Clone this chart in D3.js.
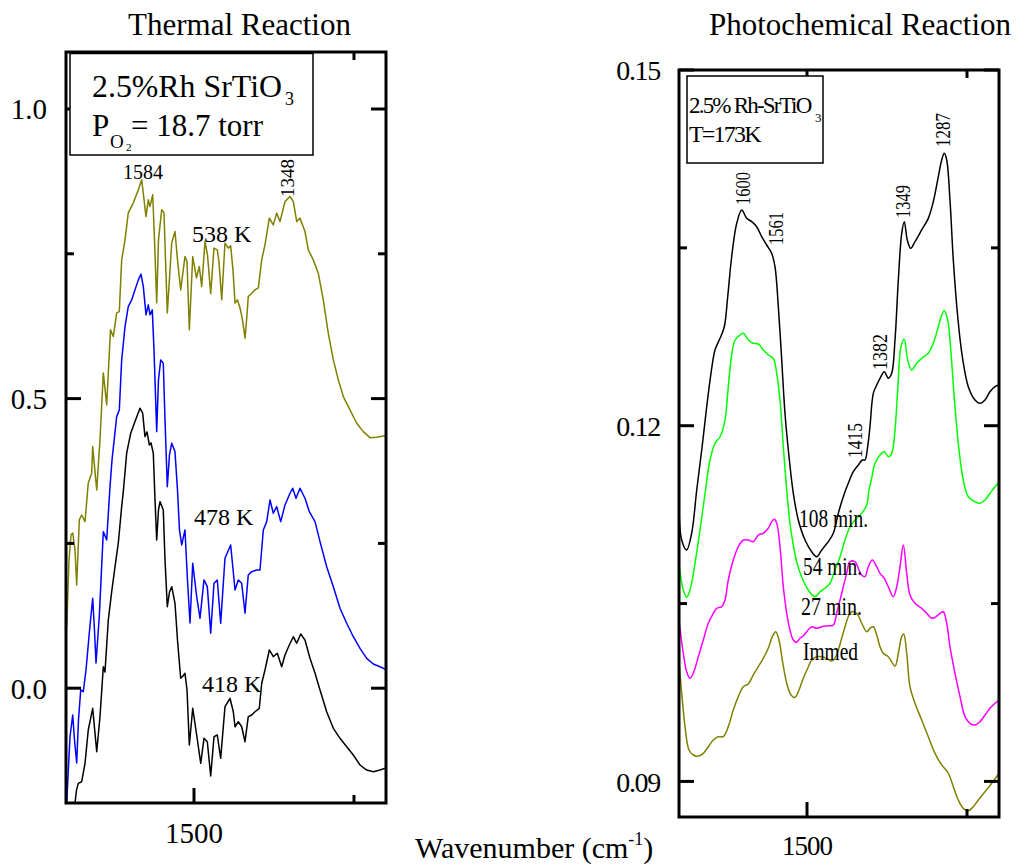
<!DOCTYPE html>
<html><head><meta charset="utf-8">
<script src="https://cdn.jsdelivr.net/npm/d3@7"></script>
<style>body{margin:0;background:#fff} svg text{font-family:"Liberation Serif","Times New Roman",Times,serif;fill:#000}</style>
</head><body><svg id="c" width="1020" height="867" font-family="Liberation Serif, Times New Roman, serif"></svg>
<script>
// ---------- DATA (wavenumber cm-1, absorbance) ----------
const thermal538 = [[1698.9,0.1057],[1695.3,0.2214],[1692.2,0.2646],[1689.5,0.268],[1685.9,0.2387],[1683.3,0.1782],[1679.2,0.2905],[1675.5,0.2991],[1670.3,0.2876],[1665.2,0.3544],[1659.8,0.3717],[1658.3,0.4171],[1652.0,0.3423],[1646.9,0.4287],[1641.7,0.5444],[1636.4,0.4891],[1630.5,0.6187],[1626.1,0.6071],[1620.8,0.648],[1616.7,0.6503],[1613.0,0.7395],[1607.8,0.7741],[1602.7,0.8207],[1594.8,0.838],[1587.0,0.8604],[1581.7,0.8777],[1575.0,0.8143],[1571.4,0.8432],[1568.8,0.8316],[1564.5,0.8518],[1561.7,0.774],[1558.3,0.6653],[1555.5,0.774],[1550.5,0.826],[1546.9,0.8207],[1544.5,0.7395],[1541.7,0.648],[1534.8,0.7689],[1529.7,0.7884],[1525.8,0.7395],[1520.8,0.6877],[1514.1,0.7453],[1510.9,0.7361],[1507.3,0.6187],[1502.0,0.7453],[1498.4,0.7223],[1496.1,0.7085],[1491.7,0.728],[1488.0,0.6934],[1482.8,0.7712],[1478.9,0.7482],[1473.9,0.6813],[1468.8,0.7598],[1463.6,0.7568],[1461.0,0.7361],[1456.7,0.6705],[1451.6,0.7684],[1446.4,0.7598],[1442.7,0.7637],[1439.1,0.7223],[1435.9,0.6648],[1432.3,0.6705],[1428.1,0.6566],[1424.2,0.6359],[1420.3,0.6043],[1417.2,0.6446],[1415.2,0.6762],[1409.8,0.682],[1404.7,0.6877],[1399.5,0.6912],[1394.2,0.7395],[1389.1,0.7655],[1382.3,0.8116],[1376.1,0.8],[1370.8,0.8202],[1365.6,0.8057],[1357.8,0.8402],[1350.0,0.8489],[1344.8,0.8402],[1339.5,0.8057],[1334.4,0.8116],[1326.6,0.7884],[1321.4,0.7568],[1313.6,0.7395],[1305.8,0.7166],[1298.0,0.6705],[1290.2,0.613],[1282.3,0.5668],[1274.5,0.5323],[1266.7,0.5035],[1256.3,0.4805],[1245.8,0.4575],[1235.5,0.443],[1225.0,0.4326],[1214.5,0.4333],[1204.2,0.4356],[1200,0.4364]];
const thermal478 = [[1698.9,-0.198],[1693.75,-0.0838],[1689.5,-0.0463],[1686.7,-0.0895],[1683.3,-0.1292],[1680.5,-0.0549],[1677.0,-0.0031],[1673.0,-0.006],[1668.75,0.0314],[1663.6,0.0953],[1658.3,0.1553],[1655.5,0.1005],[1653.1,0.0435],[1648.0,0.1235],[1641.7,0.2703],[1636.4,0.256],[1631.25,0.348],[1628.1,0.3941],[1620.8,0.4689],[1616.7,0.4805],[1613.0,0.5668],[1607.8,0.6244],[1602.7,0.6589],[1597.3,0.6705],[1592.2,0.6877],[1587.0,0.705],[1582.8,0.7149],[1579.2,0.6934],[1575.0,0.6446],[1571.4,0.6618],[1568.75,0.6446],[1565.2,0.6532],[1562.5,0.5841],[1558.3,0.443],[1555.5,0.5323],[1552.0,0.5668],[1548.0,0.5611],[1545.3,0.4632],[1541.7,0.348],[1538.3,0.4028],[1534.8,0.423],[1529.7,0.4085],[1525.8,0.3423],[1522.7,0.2732],[1519.2,0.2473],[1514.1,0.2732],[1510.2,0.1869],[1506.25,0.1126],[1502.0,0.2157],[1495.8,0.158],[1490.6,0.1207],[1484.4,0.1869],[1479.2,0.1753],[1473.9,0.0948],[1468.75,0.1812],[1463.6,0.1869],[1458.3,0.1121],[1451.6,0.2244],[1442.7,0.2473],[1435.9,0.1696],[1430.8,0.1869],[1425.5,0.1812],[1420.3,0.1294],[1415.2,0.1955],[1409.8,0.2012],[1402.0,0.2041],[1396.9,0.2041],[1391.7,0.2732],[1386.4,0.2876],[1381.25,0.325],[1376.1,0.3021],[1370.8,0.3135],[1364.5,0.2876],[1357.8,0.3164],[1350.0,0.3366],[1345.8,0.3452],[1340.6,0.328],[1334.4,0.3452],[1326.6,0.328],[1319.8,0.3048],[1310.9,0.2876],[1303.1,0.253],[1292.7,0.2098],[1282.3,0.1753],[1271.9,0.138],[1261.4,0.1121],[1251.1,0.0889],[1240.6,0.0689],[1230.2,0.0516],[1219.8,0.0418],[1209.4,0.0371],[1200,0.0323]];
const thermal418 = [[1690.6,-0.245],[1685.9,-0.198],[1683.6,-0.176],[1680.8,-0.1643],[1675.5,-0.1615],[1670.3,-0.1297],[1665.2,-0.0722],[1658.3,-0.0347],[1652.0,-0.1097],[1646.9,-0.0492],[1641.7,0.0371],[1639.1,0.028],[1633.9,0.1178],[1628.6,0.1667],[1623.4,0.2098],[1618.3,0.2503],[1613.0,0.3135],[1610.5,0.3389],[1605.2,0.4057],[1598.9,0.4402],[1592.2,0.4603],[1584.4,0.4834],[1580.2,0.4748],[1576.6,0.4344],[1573.4,0.4425],[1569.8,0.42],[1567.2,0.4235],[1563.6,0.4057],[1560.9,0.325],[1558.3,0.256],[1555.5,0.3078],[1553.1,0.3221],[1548.0,0.3078],[1545.3,0.2214],[1541.7,0.1408],[1538.3,0.1661],[1534.8,0.1753],[1529.7,0.1466],[1525.8,0.0832],[1520.8,0.0171],[1517.2,0.0211],[1514.1,0.0257],[1510.9,-0.0031],[1507.3,-0.0981],[1502.0,-0.0347],[1495.8,-0.0808],[1489.5,-0.1297],[1484.4,-0.0865],[1479.2,-0.0924],[1473.9,-0.1516],[1468.75,-0.0838],[1463.6,-0.0808],[1458.3,-0.1211],[1451.6,-0.032],[1443.75,-0.0174],[1438.6,-0.0406],[1435.9,-0.0665],[1430.8,-0.0579],[1425.5,-0.0665],[1420.3,-0.0924],[1415.2,-0.0492],[1409.8,-0.0463],[1404.7,-0.0406],[1398.0,-0.0347],[1394.2,0.0085],[1389.1,0.0314],[1382.3,0.066],[1376.1,0.0544],[1369.8,0.0603],[1363.0,0.0371],[1357.8,0.0573],[1351.1,0.0746],[1344.8,0.0889],[1339.5,0.0775],[1333.3,0.0936],[1326.6,0.0832],[1318.75,0.0516],[1310.9,0.0257],[1303.1,-0.0031],[1292.7,-0.0406],[1282.3,-0.0693],[1271.9,-0.0865],[1261.4,-0.101],[1251.1,-0.1154],[1240.6,-0.1326],[1230.2,-0.1413],[1219.8,-0.1442],[1209.4,-0.1413],[1200,-0.1378]];

const photo108 = [[1700,0.11317],[1695.8,0.11036],[1688.0,0.10952],[1680.2,0.11093],[1672.3,0.11458],[1664.5,0.11795],[1656.7,0.1216],[1650.0,0.12442],[1643.75,0.12639],[1635.9,0.12737],[1629.2,0.12835],[1623.9,0.13088],[1617.7,0.13425],[1609.8,0.13707],[1602.0,0.13819],[1594.2,0.13749],[1586.4,0.13721],[1578.6,0.13678],[1570.8,0.13594],[1563.0,0.13524],[1555.2,0.13454],[1550.0,0.13341],[1544.8,0.13004],[1539.5,0.12554],[1534.4,0.12105],[1528.1,0.11739],[1521.4,0.1143],[1513.6,0.11205],[1503.1,0.11036],[1492.7,0.10937],[1484.8,0.10895],[1477.0,0.10952],[1466.7,0.11022],[1458.9,0.11093],[1451.1,0.11261],[1443.3,0.11401],[1435.5,0.11514],[1427.7,0.11612],[1419.8,0.11669],[1413.6,0.11711],[1409.4,0.11711],[1405.2,0.11823],[1401.6,0.11992],[1396.4,0.12273],[1391.1,0.12343],[1385.9,0.124],[1379.2,0.12456],[1373.0,0.124],[1367.7,0.12442],[1362.5,0.12723],[1357.3,0.13229],[1352.0,0.13623],[1348.0,0.13721],[1343.3,0.13566],[1338.0,0.13496],[1331.25,0.13552],[1320.8,0.13651],[1310.5,0.13749],[1302.7,0.13889],[1294.8,0.141],[1289.5,0.14241],[1285.5,0.14297],[1281.7,0.14241],[1276.6,0.13904],[1271.4,0.13398],[1264.5,0.12919],[1257.3,0.12582],[1248.0,0.12329],[1237.5,0.12217],[1229.7,0.12189],[1221.9,0.12217],[1214.1,0.12287],[1206.25,0.12329],[1200,0.12343]];
const photo54 = [[1700,0.1084],[1693.3,0.10614],[1688.0,0.10553],[1682.8,0.10614],[1675.0,0.1084],[1667.2,0.1112],[1659.4,0.11424],[1651.6,0.11711],[1643.75,0.11852],[1635.9,0.11907],[1628.1,0.12048],[1623.9,0.12273],[1618.75,0.12554],[1612.5,0.12723],[1604.7,0.12765],[1599.5,0.12779],[1591.7,0.12723],[1583.9,0.12695],[1576.1,0.12689],[1568.3,0.12639],[1560.5,0.12596],[1552.7,0.12568],[1547.3,0.12442],[1542.2,0.12217],[1537.0,0.11823],[1531.7,0.11458],[1526.6,0.11177],[1521.4,0.10994],[1516.1,0.10851],[1508.3,0.10724],[1498.0,0.10614],[1487.5,0.10558],[1479.7,0.106],[1471.9,0.10629],[1464.1,0.10671],[1456.25,0.10783],[1448.4,0.10895],[1440.6,0.11036],[1432.8,0.11148],[1425.0,0.11205],[1414.5,0.11261],[1406.7,0.11331],[1403.1,0.11458],[1398.9,0.11559],[1393.75,0.11683],[1385.9,0.11753],[1379.2,0.11781],[1373.0,0.11739],[1367.7,0.11767],[1362.5,0.11964],[1358.3,0.12301],[1353.1,0.12666],[1348.0,0.12729],[1342.7,0.12554],[1336.4,0.1247],[1328.6,0.12526],[1320.8,0.12568],[1310.5,0.12611],[1302.7,0.12695],[1294.8,0.12835],[1289.5,0.12934],[1285.5,0.1297],[1280.2,0.12892],[1275.0,0.12611],[1268.75,0.1216],[1262.5,0.11795],[1255.8,0.11542],[1248.0,0.11401],[1237.5,0.11359],[1229.7,0.11346],[1221.9,0.11373],[1214.1,0.1143],[1206.25,0.11486],[1200,0.11525]];
const photo27 = [[1700,0.10361],[1693.3,0.10081],[1688.0,0.09925],[1682.8,0.0987],[1677.7,0.09912],[1669.8,0.10052],[1662.0,0.10193],[1654.2,0.10334],[1646.4,0.10418],[1641.1,0.1046],[1633.3,0.10474],[1628.1,0.1053],[1623.0,0.10699],[1615.2,0.10867],[1607.3,0.1098],[1599.5,0.11036],[1591.7,0.11036],[1583.9,0.11022],[1576.1,0.11078],[1568.3,0.11093],[1560.5,0.11135],[1555.2,0.1119],[1551.1,0.11211],[1547.3,0.11177],[1542.2,0.1098],[1537.0,0.10642],[1531.7,0.10418],[1526.6,0.10277],[1521.4,0.10193],[1516.1,0.10173],[1510.9,0.10207],[1505.8,0.10227],[1500.5,0.10263],[1492.7,0.10305],[1484.8,0.10291],[1477.0,0.10305],[1466.7,0.10313],[1458.9,0.10319],[1453.6,0.10418],[1448.4,0.1053],[1443.3,0.10642],[1438.0,0.10755],[1432.8,0.10853],[1425.0,0.10853],[1419.8,0.10797],[1414.5,0.10741],[1409.4,0.10727],[1404.2,0.10811],[1398.0,0.10867],[1391.1,0.10811],[1385.9,0.10755],[1379.2,0.10713],[1373.0,0.10642],[1365.2,0.10558],[1359.8,0.10642],[1354.7,0.10811],[1349.5,0.10994],[1344.2,0.10755],[1339.1,0.10572],[1331.25,0.10502],[1320.8,0.1046],[1313.0,0.10418],[1305.2,0.10376],[1300.0,0.10384],[1292.2,0.10418],[1287.0,0.10431],[1281.7,0.10334],[1276.6,0.10136],[1268.75,0.09912],[1260.9,0.09715],[1253.1,0.09546],[1245.3,0.0949],[1237.5,0.09476],[1229.7,0.09504],[1221.9,0.0956],[1214.1,0.09617],[1206.25,0.09659],[1200,0.09687]];
const photoImmed = [[1700,0.10024],[1695.8,0.09743],[1690.6,0.09462],[1684.4,0.09265],[1677.7,0.09223],[1669.8,0.09214],[1662.0,0.09237],[1654.2,0.09293],[1646.4,0.09349],[1638.6,0.09377],[1630.8,0.09377],[1623.0,0.09462],[1615.2,0.09602],[1607.3,0.09715],[1599.5,0.09799],[1591.7,0.09822],[1583.9,0.09898],[1576.1,0.09968],[1568.3,0.10038],[1560.5,0.10123],[1554.2,0.10221],[1548.9,0.10263],[1543.75,0.10193],[1538.6,0.10024],[1531.7,0.09828],[1525.0,0.09729],[1518.75,0.09709],[1512.5,0.09771],[1505.8,0.0987],[1498.9,0.09954],[1492.7,0.10024],[1484.8,0.10052],[1477.0,0.10052],[1469.2,0.10038],[1461.4,0.10016],[1456.25,0.10038],[1451.1,0.10108],[1445.8,0.10207],[1440.6,0.10305],[1435.5,0.10389],[1430.2,0.10431],[1422.3,0.10418],[1414.5,0.10334],[1406.7,0.10263],[1401.6,0.10291],[1396.4,0.10305],[1391.1,0.10235],[1385.9,0.10136],[1380.8,0.10081],[1373.0,0.10052],[1362.5,0.09973],[1357.3,0.10081],[1352.0,0.10221],[1348.9,0.10243],[1344.2,0.10081],[1339.1,0.09799],[1331.25,0.09659],[1320.8,0.09518],[1310.5,0.09377],[1300.0,0.09237],[1289.5,0.09139],[1279.2,0.09069],[1271.4,0.08956],[1263.6,0.08843],[1255.8,0.08773],[1248.0,0.08753],[1240.2,0.08787],[1232.3,0.08843],[1221.9,0.08913],[1211.4,0.08984],[1200,0.09069]];

const leftYMajor = [0, 0.5, 1.0];
const leftYLabels = ["0.0", "0.5", "1.0"];
const leftYMinor = [0.25, 0.75];
const rightYMajor = [0.09, 0.12, 0.15];
const rightYLabels = ["0.09", "0.12", "0.15"];
const rightYMinor = [0.105, 0.135];
const xMajor = [1500];
const xLabels = ["1500"];
const xMinor = [1250];

// ---------- LAYOUT ----------
const FONT = "Liberation Serif, Times New Roman, serif";
const svg = d3.select("#c");
const L = {x0:66, x1:386, y0:52, y1:803};
const R = {x0:679, x1:999, y0:70, y1:817};
const xL = d3.scaleLinear().domain([1700,1200]).range([L.x0, L.x1]);
const yL = d3.scaleLinear().domain([-0.2,1.1]).range([804.04, 51.08]);
const xR = d3.scaleLinear().domain([1700,1200]).range([R.x0, R.x1]);
const yR = d3.scaleLinear().domain([0.087,0.15]).range([R.y1, R.y0]);

const defs = svg.append("defs");
defs.append("clipPath").attr("id","clipL").append("rect").attr("x",L.x0).attr("y",L.y0).attr("width",L.x1-L.x0).attr("height",L.y1-L.y0);
defs.append("clipPath").attr("id","clipR").append("rect").attr("x",R.x0).attr("y",R.y0).attr("width",R.x1-R.x0).attr("height",R.y1-R.y0);

function drawCurve(data, xs, ys, color, clip, smooth) {
  const line = d3.line().x(d => xs(d[0])).y(d => ys(d[1]))
    .curve(smooth ? d3.curveCatmullRom.alpha(0.5) : d3.curveLinear);
  svg.append("path").datum(data).attr("d", line)
    .attr("fill","none").attr("stroke",color).attr("stroke-width",1.5)
    .attr("stroke-linejoin","round").attr("clip-path",`url(#${clip})`);
}
drawCurve(thermal538, xL, yL, "#808000", "clipL", false);
drawCurve(thermal478, xL, yL, "#0000ff", "clipL", false);
drawCurve(thermal418, xL, yL, "#000000", "clipL", false);
drawCurve(photo108, xR, yR, "#000000", "clipR", true);
drawCurve(photo54, xR, yR, "#00ff00", "clipR", true);
drawCurve(photo27, xR, yR, "#ff00ff", "clipR", true);
drawCurve(photoImmed, xR, yR, "#808000", "clipR", true);

function txt(x, y, s, size, o = {}) {
  const t = svg.append("text").attr("x",x).attr("y",y).attr("font-size",size)
    .attr("font-family",FONT).attr("fill","#000").text(s);
  if (o.anchor) t.attr("text-anchor", o.anchor);
  if (o.len) t.attr("textLength", o.len).attr("lengthAdjust","spacingAndGlyphs");
  if (o.rot) t.attr("transform", `rotate(-90,${x},${y})`);
  if (o.dy) t.attr("dy", o.dy);
  if (o.ls) t.attr("letter-spacing", o.ls);
  return t;
}

function frame(P, xs, ys, yMaj, yMin, yLab, labSize, labSpacing, xLabSize, xLabBase, xLabSpacing) {
  const g = svg.append("g").attr("stroke","#000").attr("stroke-width",3).attr("fill","none");
  const tick = (x1,y1,x2,y2) => g.append("line").attr("x1",x1).attr("y1",y1).attr("x2",x2).attr("y2",y2);
  yMaj.forEach(v => { const y = ys(v); tick(P.x0,y,P.x0+15,y); tick(P.x1,y,P.x1-15,y); });
  yMin.forEach(v => { const y = ys(v); tick(P.x0,y,P.x0+8,y); tick(P.x1,y,P.x1-8,y); });
  xMajor.forEach(v => { const x = xs(v); tick(x,P.y1,x,P.y1-15); tick(x,P.y0,x,P.y0+15); });
  xMinor.forEach(v => { const x = xs(v); tick(x,P.y1,x,P.y1-8); tick(x,P.y0,x,P.y0+8); });
  g.append("rect").attr("x",P.x0).attr("y",P.y0).attr("width",P.x1-P.x0).attr("height",P.y1-P.y0);
  yMaj.forEach((v,i) => txt(P.x0-19, ys(v), yLab[i], labSize, {anchor:"end", dy:"0.36em", ls:labSpacing}));
  xMajor.forEach((v,i) => txt(xs(v), xLabBase, xLabels[i], xLabSize, {anchor:"middle", ls:xLabSpacing}));
}
frame(L, xL, yL, leftYMajor, leftYMinor, leftYLabels, 29, 0, 29, 843, 0);
frame(R, xR, yR, rightYMajor, rightYMinor, rightYLabels, 28, -1.3, 27, 855, -1);

// info boxes
svg.append("rect").attr("x",70).attr("y",53.5).attr("width",243).attr("height",101.5)
  .attr("fill","#fff").attr("stroke","#000").attr("stroke-width",1.5);
svg.append("rect").attr("x",687).attr("y",76).attr("width",136).attr("height",87)
  .attr("fill","#fff").attr("stroke","#000").attr("stroke-width",1.5);

// titles
txt(239.5, 35, "Thermal Reaction", 31, {anchor:"middle"});
txt(860, 35, "Photochemical Reaction", 31, {anchor:"middle"});
// axis label
const ax = svg.append("text").attr("x",415).attr("y",858).attr("font-size",30)
  .attr("font-family",FONT).attr("fill","#000");
ax.append("tspan").text("Wavenumber (cm");
ax.append("tspan").attr("font-size",18).attr("dy",-13).text("-1");
ax.append("tspan").attr("dy",13).text(")");

// left box text
txt(92, 97, "2.5%Rh SrTiO", 31, {len:190});
txt(285, 105, "3", 18);
txt(92, 136, "P", 31);
txt(110, 148, "O", 19);
txt(126, 151, "2", 11);
txt(131, 136, "= 18.7 torr", 31, {len:132});

// right box text (condensed with letter-spacing)
txt(689, 113, "2.5% Rh-SrTiO", 23, {ls:-1.8});
txt(815, 122, "3", 13);
txt(689, 142, "T=173K", 24, {ls:-1.8});

// left annotations
txt(143, 179, "1584", 20, {anchor:"middle"});
txt(294, 197, "1348", 19, {rot:true});
txt(192, 242, "538 K", 24);
txt(194, 525, "478 K", 24);
txt(202, 692, "418 K", 24);

// right annotations
txt(750, 205, "1600", 20, {rot:true, len:33});
txt(783, 245, "1561", 20, {rot:true, len:33});
txt(910, 218, "1349", 20, {rot:true, len:33});
txt(950, 147, "1287", 20, {rot:true, len:34});
txt(887, 370, "1382", 20, {rot:true, len:36});
txt(862, 458, "1415", 20, {rot:true, len:35});
txt(799, 527, "108 min.", 25, {len:69});
txt(803, 575, "54 min.", 25, {len:59});
txt(801, 615, "27 min.", 25, {len:61});
txt(803, 660, "Immed", 25, {len:55});
</script></body></html>
